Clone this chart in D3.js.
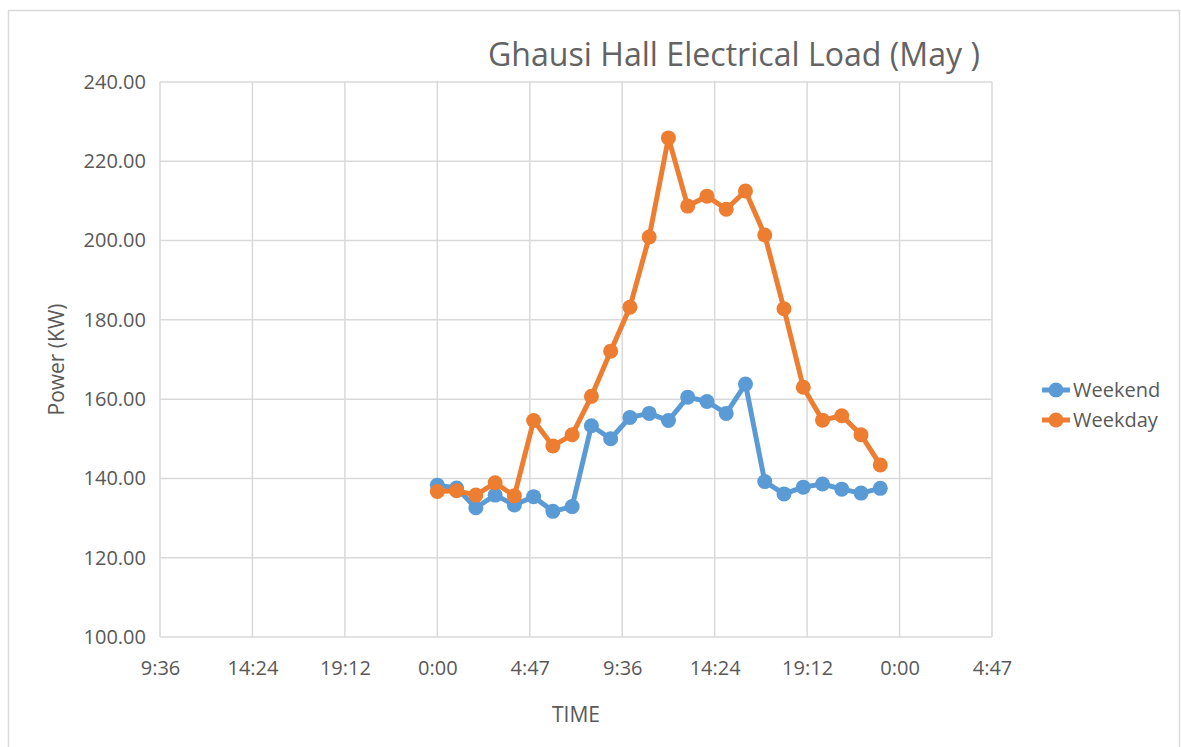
<!DOCTYPE html>
<html>
<head>
<meta charset="utf-8">
<script src="https://cdn.jsdelivr.net/npm/d3@7"></script>
<style>
  body { margin: 0; background: #fff; }
  text { font-family: "Open Sans", "Noto Sans", sans-serif; fill: #595959; }
</style>
</head>
<body>
<div class="chart"></div>
<script>
var svgWidth = 1181;
var svgHeight = 747;

// plot area inside the svg
var margin = { top: 82, right: 189, bottom: 110, left: 160 };
var width = svgWidth - margin.left - margin.right;
var height = svgHeight - margin.top - margin.bottom;

// hour of day for every reading
var hours = [0, 1, 2, 3, 4, 5, 6, 7, 8, 9, 10, 11, 12, 13, 14, 15, 16, 17, 18, 19, 20, 21, 22, 23];

// average power (KW)
var weekend = [138.3, 137.6, 132.6, 135.8, 133.3, 135.4, 131.7, 132.9, 153.3, 150.0, 155.4, 156.4,
               154.6, 160.5, 159.4, 156.4, 163.8, 139.2, 136.1, 137.8, 138.6, 137.3, 136.3, 137.5];
var weekday = [136.7, 136.9, 135.8, 138.9, 135.6, 154.6, 148.2, 151.0, 160.7, 172.1, 183.2, 200.9,
               225.9, 208.7, 211.2, 207.9, 212.5, 201.4, 182.8, 163.0, 154.7, 155.8, 151.0, 143.4];

// x axis is in days (Excel time), labels as Excel printed them
var xTickValues = [-0.6, -0.4, -0.2, 0, 0.2, 0.4, 0.6, 0.8, 1.0, 1.2];
var xTickLabels = ["9:36", "14:24", "19:12", "0:00", "4:47", "9:36", "14:24", "19:12", "0:00", "4:47"];
var yTickValues = [100, 120, 140, 160, 180, 200, 220, 240];

var seriesNames = ["Weekend", "Weekday"];
var seriesColors = ["#5B9BD5", "#ED7D31"];

var svg = d3.select(".chart")
  .append("svg")
  .attr("width", svgWidth)
  .attr("height", svgHeight);

// outer chart frame
svg.append("rect")
  .attr("x", 8.5)
  .attr("y", 10.5)
  .attr("width", 1171)
  .attr("height", 800)
  .attr("fill", "none")
  .attr("stroke", "#d9d9d9")
  .attr("stroke-width", 1.5);

var chart = svg.append("g")
  .attr("transform", "translate(" + margin.left + "," + margin.top + ")");

var xScale = d3.scaleLinear().domain([-0.6, 1.2]).range([0, width]);
var yScale = d3.scaleLinear().domain([100, 240]).range([height, 0]);

// gridlines
chart.append("g")
  .selectAll("line.vgrid")
  .data(xTickValues)
  .enter()
  .append("line")
  .attr("x1", function(d) { return xScale(d); })
  .attr("x2", function(d) { return xScale(d); })
  .attr("y1", 0)
  .attr("y2", height)
  .attr("stroke", "#d9d9d9")
  .attr("stroke-width", 1.5);

chart.append("g")
  .selectAll("line.hgrid")
  .data(yTickValues)
  .enter()
  .append("line")
  .attr("x1", 0)
  .attr("x2", width)
  .attr("y1", function(d) { return yScale(d); })
  .attr("y2", function(d) { return yScale(d); })
  .attr("stroke", "#d9d9d9")
  .attr("stroke-width", 1.5);

// axes (labels only, Excel style)
var bottomAxis = d3.axisBottom(xScale)
  .tickValues(xTickValues)
  .tickSize(0)
  .tickPadding(24)
  .tickFormat(function(d, i) { return xTickLabels[i]; });

var leftAxis = d3.axisLeft(yScale)
  .tickValues(yTickValues)
  .tickSize(0)
  .tickPadding(14)
  .tickFormat(d3.format(".2f"));

var xAxisG = chart.append("g")
  .attr("transform", "translate(0," + height + ")")
  .call(bottomAxis);
var yAxisG = chart.append("g").call(leftAxis);

[xAxisG, yAxisG].forEach(function(g) {
  g.select(".domain").remove();
  g.selectAll("text")
    .style("font-size", "20px")
    .style("font-family", "'Open Sans', sans-serif")
    .attr("fill", "#595959");
});

// series
var line = d3.line()
  .x(function(d) { return xScale(d[0] / 24); })
  .y(function(d) { return yScale(d[1]); });

[weekend, weekday].forEach(function(values, s) {
  var pts = hours.map(function(h, i) { return [h, values[i]]; });
  var g = chart.append("g");
  g.append("path")
    .datum(pts)
    .attr("d", line)
    .attr("fill", "none")
    .attr("stroke", seriesColors[s])
    .attr("stroke-width", 5)
    .attr("stroke-linejoin", "round");
  g.selectAll("circle")
    .data(pts)
    .enter()
    .append("circle")
    .attr("cx", function(d) { return xScale(d[0] / 24); })
    .attr("cy", function(d) { return yScale(d[1]); })
    .attr("r", 7.5)
    .attr("fill", seriesColors[s]);
});

// title
var title = svg.append("text")
  .attr("x", 488)
  .attr("y", 66)
  .style("font-size", "28px")
  .style("fill", "#636363")
  .text("Ghausi Hall Electrical Load (May )");
var tw = title.node().getComputedTextLength();
title.style("font-size", (28 * 492 / tw) + "px");

// axis titles
svg.append("text")
  .attr("transform", "translate(64," + (margin.top + height / 2) + ") rotate(-90)")
  .attr("text-anchor", "middle")
  .style("font-size", "21px")
  .text("Power (KW)");

svg.append("text")
  .attr("x", margin.left + width / 2)
  .attr("y", 722)
  .attr("text-anchor", "middle")
  .style("font-size", "21px")
  .text("TIME");

// legend
var legend = svg.append("g").attr("transform", "translate(1040,390)");
seriesNames.forEach(function(name, i) {
  var row = legend.append("g").attr("transform", "translate(0," + (i * 30) + ")");
  row.append("line")
    .attr("x1", 2).attr("x2", 30)
    .attr("stroke", seriesColors[i])
    .attr("stroke-width", 5);
  row.append("circle")
    .attr("cx", 16).attr("r", 7.5)
    .attr("fill", seriesColors[i]);
  row.append("text")
    .attr("x", 33)
    .attr("dy", "0.35em")
    .style("font-size", "20px")
    .text(name);
});
</script>
</body>
</html>
